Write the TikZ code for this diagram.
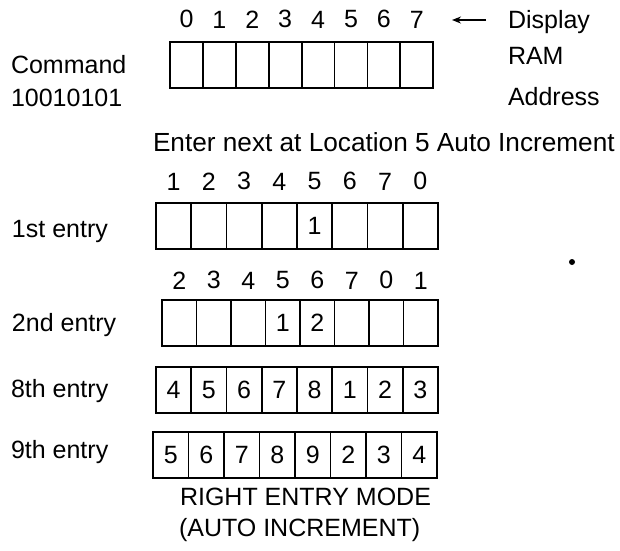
\documentclass[tikz,border=0pt]{standalone}
\usepackage{fontspec}
\setmainfont{Liberation Sans}
\usetikzlibrary{positioning,arrows.meta}

\tikzset{
  cell/.style={draw, line width=1.8pt, minimum width=#1, minimum height=46pt, inner sep=0pt, outer sep=0pt},
  txt/.style={inner sep=0pt, outer sep=0pt},
}

\begin{document}
\begin{tikzpicture}[x=1pt, y=-1pt, font=\fontsize{25}{30}\selectfont]
        \useasboundingbox (0,0) rectangle (620,550);

        % display RAM address row
        \node[cell=32.9pt, anchor=north west] (ram0) at (170,42) {};
        \node[cell=32.9pt, right=0pt of ram0] (ram1) {};
        \node[cell=32.9pt, right=0pt of ram1] (ram2) {};
        \node[cell=32.9pt, right=0pt of ram2] (ram3) {};
        \node[cell=32.9pt, right=0pt of ram3] (ram4) {};
        \node[cell=32.9pt, right=0pt of ram4] (ram5) {};
        \node[cell=32.9pt, right=0pt of ram5] (ram6) {};
        \node[cell=32.9pt, right=0pt of ram6] (ram7) {};

        \node[txt, above=14pt of ram0] (ramn0) {0};
        \node[txt, above=14pt of ram1] (ramn1) {1};
        \node[txt, above=14pt of ram2] (ramn2) {2};
        \node[txt, above=14pt of ram3] (ramn3) {3};
        \node[txt, above=14pt of ram4] (ramn4) {4};
        \node[txt, above=14pt of ram5] (ramn5) {5};
        \node[txt, above=14pt of ram6] (ramn6) {6};
        \node[txt, above=14pt of ram7] (ramn7) {7};

        \node[txt, anchor=base west] (cmd) at (11,73) {Command};
        \node[txt, anchor=base west] (cmdcode) at (11,106) {10010101};
        \node[txt, anchor=base west] (disp) at (508,28) {Display};
        \node[txt, anchor=base west] (dram) at (508,64) {RAM};
        \node[txt, anchor=base west] (daddr) at (508,105) {Address};
        \coordinate (arrtail) at (486,20);
        \coordinate (arrhead) at (452,20);
        \draw [-{Stealth[length=9pt, width=7pt]}, line width=1.4pt] (arrtail) -- (arrhead);

        \node[txt, anchor=base west, font=\fontsize{26.2}{30}\selectfont] (enter) at (153,151) {Enter next at Location 5 Auto Increment};

        % 1st entry
        \node[txt, anchor=base west] (first) at (12,237) {1st entry};
        \node[cell=35.25pt, anchor=north west] (fa0) at (156,203) {};
        \node[cell=35.25pt, right=0pt of fa0] (fa1) {};
        \node[cell=35.25pt, right=0pt of fa1] (fa2) {};
        \node[cell=35.25pt, right=0pt of fa2] (fa3) {};
        \node[cell=35.25pt, right=0pt of fa3] (fa4) {1};
        \node[cell=35.25pt, right=0pt of fa4] (fa5) {};
        \node[cell=35.25pt, right=0pt of fa5] (fa6) {};
        \node[cell=35.25pt, right=0pt of fa6] (fa7) {};

        \node[txt, above=13pt of fa0] (fan0) {1};
        \node[txt, above=13pt of fa1] (fan1) {2};
        \node[txt, above=13pt of fa2] (fan2) {3};
        \node[txt, above=13pt of fa3] (fan3) {4};
        \node[txt, above=13pt of fa4] (fan4) {5};
        \node[txt, above=13pt of fa5] (fan5) {6};
        \node[txt, above=13pt of fa6] (fan6) {7};
        \node[txt, above=13pt of fa7] (fan7) {0};

        \node[circle, fill, inner sep=0pt, minimum size=6pt] (speck) at (572,262) {};

        % 2nd entry
        \node[txt, anchor=base west] (second) at (12,331) {2nd entry};
        \node[cell=34.5pt, anchor=north west] (sa0) at (162,300) {};
        \node[cell=34.5pt, right=0pt of sa0] (sa1) {};
        \node[cell=34.5pt, right=0pt of sa1] (sa2) {};
        \node[cell=34.5pt, right=0pt of sa2] (sa3) {1};
        \node[cell=34.5pt, right=0pt of sa3] (sa4) {2};
        \node[cell=34.5pt, right=0pt of sa4] (sa5) {};
        \node[cell=34.5pt, right=0pt of sa5] (sa6) {};
        \node[cell=34.5pt, right=0pt of sa6] (sa7) {};

        \node[txt, above=11pt of sa0] (san0) {2};
        \node[txt, above=11pt of sa1] (san1) {3};
        \node[txt, above=11pt of sa2] (san2) {4};
        \node[txt, above=11pt of sa3] (san3) {5};
        \node[txt, above=11pt of sa4] (san4) {6};
        \node[txt, above=11pt of sa5] (san5) {7};
        \node[txt, above=11pt of sa6] (san6) {0};
        \node[txt, above=11pt of sa7] (san7) {1};

        % 8th entry
        \node[txt, anchor=base west] (eighth) at (11,397) {8th entry};
        \node[cell=35.25pt, anchor=north west] (ea0) at (156,367) {4};
        \node[cell=35.25pt, right=0pt of ea0] (ea1) {5};
        \node[cell=35.25pt, right=0pt of ea1] (ea2) {6};
        \node[cell=35.25pt, right=0pt of ea2] (ea3) {7};
        \node[cell=35.25pt, right=0pt of ea3] (ea4) {8};
        \node[cell=35.25pt, right=0pt of ea4] (ea5) {1};
        \node[cell=35.25pt, right=0pt of ea5] (ea6) {2};
        \node[cell=35.25pt, right=0pt of ea6] (ea7) {3};

        % 9th entry
        \node[txt, anchor=base west] (ninth) at (11,458) {9th entry};
        \node[cell=35.5pt, anchor=north west] (na0) at (153,432) {5};
        \node[cell=35.5pt, right=0pt of na0] (na1) {6};
        \node[cell=35.5pt, right=0pt of na1] (na2) {7};
        \node[cell=35.5pt, right=0pt of na2] (na3) {8};
        \node[cell=35.5pt, right=0pt of na3] (na4) {9};
        \node[cell=35.5pt, right=0pt of na4] (na5) {2};
        \node[cell=35.5pt, right=0pt of na5] (na6) {3};
        \node[cell=35.5pt, right=0pt of na6] (na7) {4};

        \node[txt, anchor=base west] (mode) at (180,505) {RIGHT ENTRY MODE};
        \node[txt, anchor=base west] (autoinc) at (179,536) {(AUTO INCREMENT)};
\end{tikzpicture}
\end{document}
